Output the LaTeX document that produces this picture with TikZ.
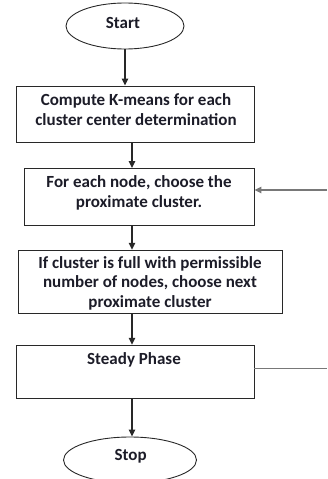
\documentclass[tikz,border=0pt]{standalone}
\usepackage{fontspec}
\setmainfont{Carlito}
\usetikzlibrary{shapes.geometric,arrows.meta}
\definecolor{ink}{RGB}{28,28,40}
\definecolor{edge}{RGB}{40,40,40}
\definecolor{fbline}{RGB}{120,120,120}
\tikzset{
  term/.style={draw=edge,line width=0.9pt,ellipse,inner sep=0pt},
  procbox/.style={draw=edge,line width=0.9pt,rectangle,inner sep=0pt},
  lbl/.style={text=ink,font=\bfseries\fontsize{17}{19.5}\selectfont,align=center,inner sep=0pt},
  flow/.style={draw=edge,line width=1.3pt,-{Triangle[length=7pt,width=6.5pt]}},
  feedback/.style={draw=fbline,line width=1.5pt},
}
\begin{document}
\begin{tikzpicture}[x=1pt,y=-1pt]
\useasboundingbox (0,0) rectangle (327,479);
\clip (0,0) rectangle (327,479);
% terminals
\node[term,minimum width=118pt,minimum height=46pt] (start) at (125,26) {};
\node[term,minimum width=133pt,minimum height=46pt] (stop) at (130,460) {};
% process boxes
\node[procbox,minimum width=238pt,minimum height=56pt] (b1) at (135,114) {};
\node[procbox,minimum width=230pt,minimum height=57pt] (b2) at (139,197) {};
\node[procbox,minimum width=264pt,minimum height=63pt] (b3) at (150.3,281.7) {};
\node[procbox,minimum width=238pt,minimum height=53pt] (b4) at (135,371.7) {};
% texts
\node[lbl] (tstart) at (123,23) {Start};
\node[lbl] (t1) at (136,109.5) {Compute K-means for each\\cluster center determination};
\node[lbl] (t2) at (139,192.7) {For each node, choose the\\proximate cluster.};
\node[lbl] (t3) at (150,283.3) {If cluster is full with permissible\\number of nodes, choose next\\proximate cluster};
\node[lbl] (t4) at (134,360) {Steady Phase};
\node[lbl] (tstop) at (130.7,456.7) {Stop};
% main flow
\coordinate (spine) at (132,0);
\draw[flow] (start.south) -- (start.south |- b1.north);
\draw[flow] (b1.south -| spine) -- (b2.north -| spine);
\draw[flow] (b2.south -| spine) -- (b3.north -| spine);
\draw[flow] (b3.south -| spine) -- (b4.north -| spine);
\draw[flow] (b4.south -| spine) -- (stop.north -| spine);
% lines at the right edge
\coordinate (fbin) at (327,190);
\coordinate (fbout) at (327,368.3);
\draw[feedback,-{Triangle[length=7pt,width=6.5pt]}] (fbin) -- (fbin -| b2.east);
\draw[feedback] (fbout -| b4.east) -- (fbout);
\end{tikzpicture}
\end{document}
